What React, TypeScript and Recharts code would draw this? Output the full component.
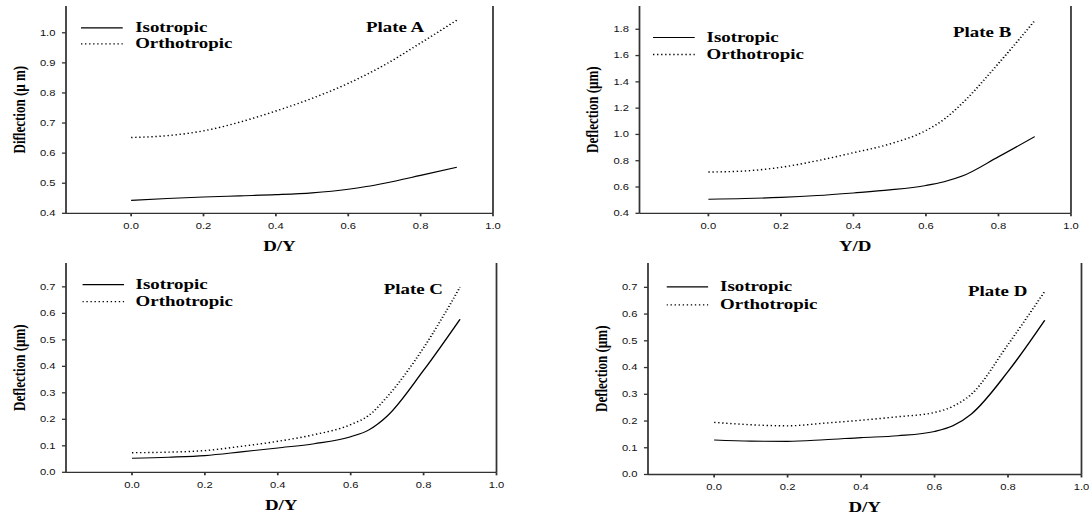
import React from "react";
import {
  LineChart,
  Line,
  XAxis,
  YAxis,
  Legend,
  ReferenceLine,
} from "recharts";

// the source figure is stretched sideways, so each chart is drawn narrow and scaled in x
const SX = 1.35;
const Y_W = 40;
const X_H = 40;

const X_VALUES = [0, 0.1, 0.2, 0.3, 0.4, 0.5, 0.6, 0.65, 0.7, 0.8, 0.9];
const X_TICKS = [0, 0.2, 0.4, 0.6, 0.8, 1.0];

const ISO_A = [0.443, 0.449, 0.454, 0.458, 0.462, 0.468, 0.48, 0.489, 0.5, 0.526, 0.553];
const ORTHO_A = [0.652, 0.658, 0.674, 0.703, 0.74, 0.782, 0.832, 0.861, 0.893, 0.966, 1.042];

const ISO_B = [0.507, 0.512, 0.521, 0.535, 0.555, 0.578, 0.612, 0.64, 0.683, 0.83, 0.983];
const ORTHO_B = [0.714, 0.722, 0.75, 0.8, 0.861, 0.927, 1.03, 1.115, 1.237, 1.54, 1.865];

const ISO_C = [0.053, 0.057, 0.063, 0.077, 0.092, 0.108, 0.134, 0.16, 0.212, 0.385, 0.578];
const ORTHO_C = [0.074, 0.076, 0.082, 0.098, 0.117, 0.142, 0.18, 0.215, 0.285, 0.47, 0.699];

const ISO_D = [0.129, 0.125, 0.124, 0.13, 0.138, 0.145, 0.161, 0.182, 0.226, 0.385, 0.577];
const ORTHO_D = [0.195, 0.186, 0.182, 0.192, 0.203, 0.216, 0.232, 0.255, 0.3, 0.486, 0.685];

const TICKS_A = [0.4, 0.5, 0.6, 0.7, 0.8, 0.9, 1.0];
const TICKS_B = [0.4, 0.6, 0.8, 1.0, 1.2, 1.4, 1.6, 1.8];
const TICKS_CD = [0, 0.1, 0.2, 0.3, 0.4, 0.5, 0.6, 0.7];

const SERIES = [
  { key: "iso", name: "Isotropic", dash: undefined as string | undefined, width: 1.1 },
  { key: "ortho", name: "Orthotropic", dash: "1 2", width: 1.4 },
];

const rowsOf = (iso: number[], ortho: number[]) =>
  X_VALUES.map((x, i) => ({ x, iso: iso[i], ortho: ortho[i] }));

const SERIF = "'Liberation Serif', 'Times New Roman', serif";
const SANS = "'Liberation Sans', Arial, sans-serif";

// page coordinates of each panel and of its plot box
const PANELS = [
  {
    id: "A", left: 0, top: 0, width: 545, height: 258,
    plot: { x0: 66, x1: 493, y0: 6, y1: 213.3 },
    xDomain: [-0.18, 1], yDomain: [0.4, 1.089], yTicks: TICKS_A,
    rows: rowsOf(ISO_A, ORTHO_A), xLabel: "D/Y", yLabel: "Diflection (\u00b5 m)",
    legend: { x: 81.6, y: 28.3, row: 15.8 }, plate: { x: 366, y: 28 },
  },
  {
    id: "B", left: 545, top: 0, width: 544, height: 258,
    plot: { x0: 639.5, x1: 1071, y0: 6, y1: 213.3 },
    xDomain: [-0.19, 1], yDomain: [0.4, 1.977], yTicks: TICKS_B,
    rows: rowsOf(ISO_B, ORTHO_B), xLabel: "Y/D", yLabel: "Deflection (\u00b5m)",
    legend: { x: 653, y: 37.3, row: 17 }, plate: { x: 953, y: 33 },
  },
  {
    id: "C", left: 0, top: 258, width: 545, height: 259,
    plot: { x0: 66, x1: 496.5, y0: 263, y1: 472.3 },
    xDomain: [-0.181, 1], yDomain: [0, 0.79], yTicks: TICKS_CD,
    rows: rowsOf(ISO_C, ORTHO_C), xLabel: "D/Y", yLabel: "Deflection (\u00b5m)",
    legend: { x: 82, y: 284.7, row: 17.3 }, plate: { x: 383.7, y: 289.7 },
  },
  {
    id: "D", left: 545, top: 258, width: 544, height: 259,
    plot: { x0: 648, x1: 1081.5, y0: 263, y1: 474.5 },
    xDomain: [-0.18, 1], yDomain: [0, 0.791], yTicks: TICKS_CD,
    rows: rowsOf(ISO_D, ORTHO_D), xLabel: "D/Y", yLabel: "Deflection (\u00b5m)",
    legend: { x: 666.5, y: 287, row: 17.7 }, plate: { x: 968, y: 292.3 },
  },
];

function LegendBox({ row }: { row: number }) {
  return (
    <div>
      {SERIES.map((s) => (
        <div
          key={s.key}
          style={{ display: "flex", alignItems: "center", height: row, lineHeight: `${row}px` }}
        >
          <svg width={31} height={row} style={{ display: "block" }}>
            <line
              x1={0}
              x2={31}
              y1={row / 2}
              y2={row / 2}
              stroke="#000"
              strokeWidth={s.width}
              strokeDasharray={s.dash}
            />
          </svg>
          <span
            style={{
              marginLeft: 8.7,
              fontFamily: SERIF,
              fontWeight: "bold",
              fontSize: 14,
              whiteSpace: "nowrap",
              color: "#000",
            }}
          >
            {s.name}
          </span>
        </div>
      ))}
    </div>
  );
}

function Panel({ p }: { p: (typeof PANELS)[number] }) {
  const w = p.width / SX;
  const margin = {
    left: (p.plot.x0 - p.left) / SX - Y_W,
    right: (p.left + p.width - p.plot.x1) / SX,
    top: p.plot.y0 - p.top,
    bottom: p.top + p.height - p.plot.y1 - X_H,
  };
  const axisStroke = { stroke: "#333", strokeWidth: 1.3 };
  const tickStyle = { fontSize: 8.3, fill: "#111", fontFamily: SANS };
  return (
    <div
      style={{
        position: "absolute",
        left: p.left,
        top: p.top,
        width: w,
        height: p.height,
        transform: `scaleX(${SX})`,
        transformOrigin: "0 0",
      }}
    >
      <LineChart width={w} height={p.height} data={p.rows} margin={margin}>
        <XAxis
          type="number"
          dataKey="x"
          domain={p.xDomain}
          ticks={X_TICKS}
          interval={0}
          allowDataOverflow
          height={X_H}
          tickFormatter={(v: number) => v.toFixed(1)}
          tick={tickStyle}
          tickSize={3}
          tickMargin={6.5}
          axisLine={axisStroke}
          tickLine={axisStroke}
          label={{
            value: p.xLabel,
            position: "insideBottom",
            offset: 2.5,
            style: { fontFamily: SERIF, fontWeight: "bold", fontSize: 14, fill: "#000" },
          }}
        />
        <YAxis
          type="number"
          domain={p.yDomain}
          ticks={p.yTicks}
          interval={0}
          allowDataOverflow
          width={Y_W}
          tickFormatter={(v: number) => v.toFixed(1)}
          tick={tickStyle}
          tickSize={3}
          tickMargin={4.8}
          axisLine={axisStroke}
          tickLine={axisStroke}
          label={{
            value: p.yLabel,
            angle: -90,
            position: "insideLeft",
            offset: 5,
            style: {
              textAnchor: "middle",
              fontFamily: SERIF,
              fontWeight: "bold",
              fontSize: 13,
              fill: "#000",
            },
          }}
        />
        <ReferenceLine x={1} stroke="#333" strokeWidth={1.3} />
        <Legend
          layout="horizontal"
          verticalAlign="middle"
          align="center"
          content={() => <LegendBox row={p.legend.row} />}
          wrapperStyle={{
            left: (p.legend.x - p.left) / SX,
            top: p.legend.y - p.top - p.legend.row / 2,
            width: 140,
            height: p.legend.row * 2,
          }}
        />
        {SERIES.map((s) => (
          <Line
            key={s.key}
            type="monotone"
            dataKey={s.key}
            name={s.name}
            stroke="#000"
            strokeWidth={s.width}
            strokeDasharray={s.dash}
            dot={false}
            activeDot={false}
            isAnimationActive={false}
          />
        ))}
      </LineChart>
      <div
        style={{
          position: "absolute",
          left: (p.plate.x - p.left) / SX,
          top: p.plate.y - p.top - 9,
          height: 18,
          lineHeight: "18px",
          fontFamily: SERIF,
          fontWeight: "bold",
          fontSize: 14,
          whiteSpace: "nowrap",
          color: "#000",
        }}
      >
        Plate {p.id}
      </div>
    </div>
  );
}

export default function App() {
  return (
    <div
      style={{
        position: "absolute",
        left: 0,
        top: 0,
        width: 1089,
        height: 517,
        background: "#fff",
        overflow: "hidden",
      }}
    >
      {PANELS.map((p) => (
        <Panel key={p.id} p={p} />
      ))}
    </div>
  );
}
